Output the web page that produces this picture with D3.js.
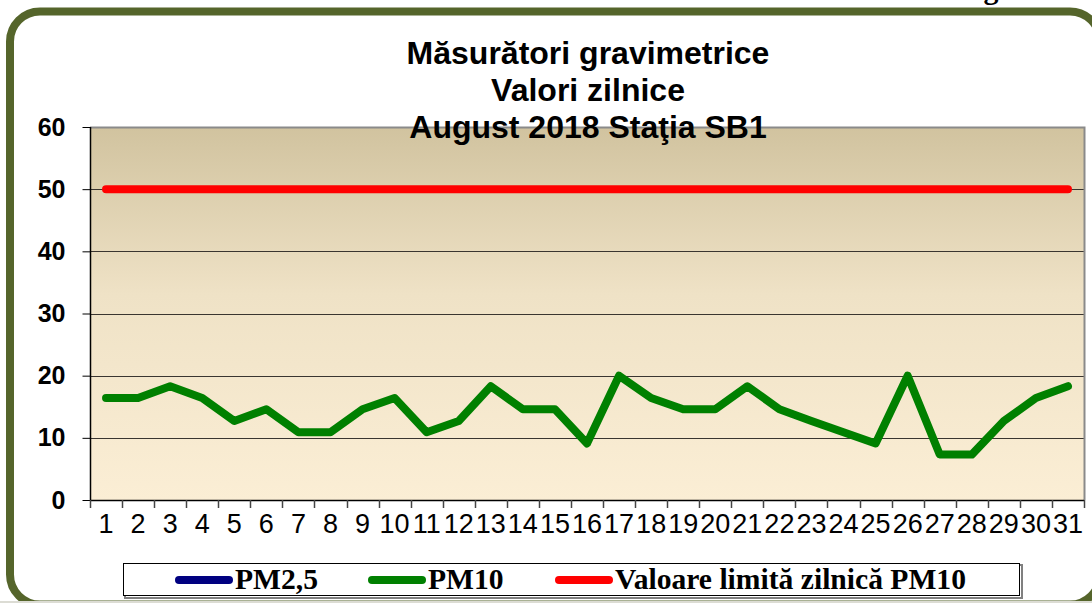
<!DOCTYPE html>
<html>
<head>
<meta charset="utf-8">
<script src="https://cdn.jsdelivr.net/npm/d3@7/dist/d3.min.js"></script>
<style>
html,body{margin:0;padding:0;background:#fff;}
svg{display:block;}
</style>
</head>
<body>
<svg id="chart" width="1092" height="603"></svg>
<script>
// ---- data ----
const days = d3.range(1, 32).map(String);
const pm10 = [16.4,16.4,18.3,16.4,12.7,14.6,10.9,10.9,14.6,16.4,10.9,12.7,18.3,14.6,14.6,9.1,20,16.4,14.6,14.6,18.3,14.6,12.7,10.9,9.1,20,7.3,7.3,12.7,16.4,18.3];
const pm25 = []; // no values shown
const limitPM10 = days.map(() => 50);
const yTicks = [0,10,20,30,40,50,60];
const titleLines = ["Măsurători gravimetrice","Valori zilnice","August 2018 Staţia SB1"];
const legendItems = [
  {label:"PM2,5", color:"#000080"},
  {label:"PM10", color:"#008000"},
  {label:"Valoare limită zilnică PM10", color:"#ff0000"}
];

(function(){
const svg = d3.select("#chart");
const W = 1092, H = 603;

// gradient
const defs = svg.append("defs");
const grad = defs.append("linearGradient").attr("id","plotbg").attr("x1",0).attr("y1",0).attr("x2",0).attr("y2",1);
grad.append("stop").attr("offset","0%").attr("stop-color","#d1c39f");
grad.append("stop").attr("offset","45%").attr("stop-color","#efe2c6");
grad.append("stop").attr("offset","100%").attr("stop-color","#fbeed5");
defs.append("clipPath").attr("id","pageclip").append("rect").attr("x",0).attr("y",0).attr("width",W).attr("height",601);

svg.append("rect").attr("width",W).attr("height",H).attr("fill","#fff");

// cut-off text above frame (partially visible in the original)
svg.append("text").attr("x",991).attr("y",-1).attr("text-anchor","middle")
  .attr("font-family","Liberation Serif, Times New Roman, serif").attr("font-weight","bold")
  .attr("font-size",30).attr("fill","#000").text("g");

// frame
svg.append("g").attr("clip-path","url(#pageclip)")
  .append("rect").attr("x",10).attr("y",11.5).attr("width",1090).attr("height",593)
  .attr("rx",30).attr("ry",30).attr("fill","none").attr("stroke","#55652b").attr("stroke-width",8);
svg.append("rect").attr("x",0).attr("y",601).attr("width",W).attr("height",2).attr("fill","#dcdcd4");

// scales
const pL = 90, pR = 1084, pT = 127, pB = 500;
const x = d3.scaleBand().domain(days).range([pL, pR]).padding(0);
const y = d3.scaleLinear().domain([0,60]).range([pB, pT]);
const cx = d => x(d) + x.bandwidth()/2;

// plot area
svg.append("rect").attr("x",pL).attr("y",pT).attr("width",pR-pL).attr("height",pB-pT)
  .attr("fill","url(#plotbg)");

// gridlines
svg.append("g").selectAll("line").data(yTicks.filter(v => v>0 && v<60)).join("line")
  .attr("x1",pL).attr("x2",pR).attr("y1",d=>Math.round(y(d))+0.5).attr("y2",d=>Math.round(y(d))+0.5)
  .attr("stroke","#3a3530").attr("stroke-width",1);

// plot border top/right (gray)
svg.append("path").attr("d",`M${pL},${pT+0.5}H${pR+0.5}V${pB}`)
  .attr("fill","none").attr("stroke","#8a8a8a").attr("stroke-width",2);

// y axis
const yAxis = d3.axisLeft(y).tickValues(yTicks).tickSize(8).tickPadding(17).tickFormat(d3.format("d"));
const yg = svg.append("g").attr("transform",`translate(${pL+0.5},0)`).call(yAxis);
yg.select(".domain").attr("stroke","#000").attr("stroke-width",1.5).attr("d",`M0,${pT}V${pB}`);
yg.selectAll(".tick line").attr("stroke","#000");
yg.selectAll(".tick text").attr("font-family","Liberation Sans, Arial, sans-serif")
  .attr("font-weight","bold").attr("font-size",25).attr("fill","#000");

// x axis
const xAxis = d3.axisBottom(x).tickSize(0).tickPadding(13);
const xg = svg.append("g").attr("transform",`translate(0,${pB+0.5})`).call(xAxis);
xg.select(".domain").attr("stroke","#000").attr("stroke-width",1.5).attr("d",`M${pL},0H${pR}`);
xg.selectAll(".tick text").attr("font-family","Liberation Sans, Arial, sans-serif")
  .attr("font-size",27).attr("fill","#000").attr("dy","0.71em");
// tick marks at band boundaries
const edges = days.map(d => x(d)).concat([pR]);
svg.append("g").selectAll("line").data(edges).join("line")
  .attr("x1",d=>Math.round(d)+0.5).attr("x2",d=>Math.round(d)+0.5)
  .attr("y1",pB).attr("y2",pB+8).attr("stroke","#444").attr("stroke-width",1.5);

// series
const line = d3.line().x((d,i)=>cx(days[i])).y(d=>y(d));
svg.append("path").datum(limitPM10).attr("d",line).attr("fill","none")
  .attr("stroke","#ff0000").attr("stroke-width",8).attr("stroke-linecap","round").attr("stroke-linejoin","round");
svg.append("path").datum(pm10).attr("d",line).attr("fill","none")
  .attr("stroke","#008000").attr("stroke-width",8).attr("stroke-linecap","round").attr("stroke-linejoin","round");
if (pm25.length) {
  svg.append("path").datum(pm25).attr("d",line).attr("fill","none")
    .attr("stroke","#000080").attr("stroke-width",8).attr("stroke-linecap","round");
}

// title
svg.append("g").selectAll("text").data(titleLines).join("text")
  .attr("x",588).attr("y",(d,i)=>64+i*37).attr("text-anchor","middle")
  .attr("font-family","Liberation Sans, Arial, sans-serif").attr("font-weight","bold")
  .attr("font-size",32).attr("fill","#000").text(d=>d);

// legend
const lg = svg.append("g");
lg.append("rect").attr("x",125).attr("y",565).attr("width",897).attr("height",33).attr("fill","none")
  .attr("stroke","#808080").attr("stroke-width",2);
lg.append("rect").attr("x",123.5).attr("y",563.5).attr("width",896).attr("height",32).attr("fill","#fff")
  .attr("stroke","#000").attr("stroke-width",1);
const lineStarts = [179, 372, 559];
const items = lg.selectAll("g.item").data(legendItems).join("g").attr("class","item")
  .attr("transform",(d,i)=>`translate(${lineStarts[i]},0)`);
items.append("line").attr("x1",0).attr("x2",50).attr("y1",580).attr("y2",580)
  .attr("stroke",d=>d.color).attr("stroke-width",8).attr("stroke-linecap","round");
items.append("text").attr("x",56).attr("y",589)
  .attr("font-family","Liberation Serif, Times New Roman, serif").attr("font-weight","bold")
  .attr("font-size",29.6).attr("fill","#000").text(d=>d.label);
})();
</script>
</body>
</html>
